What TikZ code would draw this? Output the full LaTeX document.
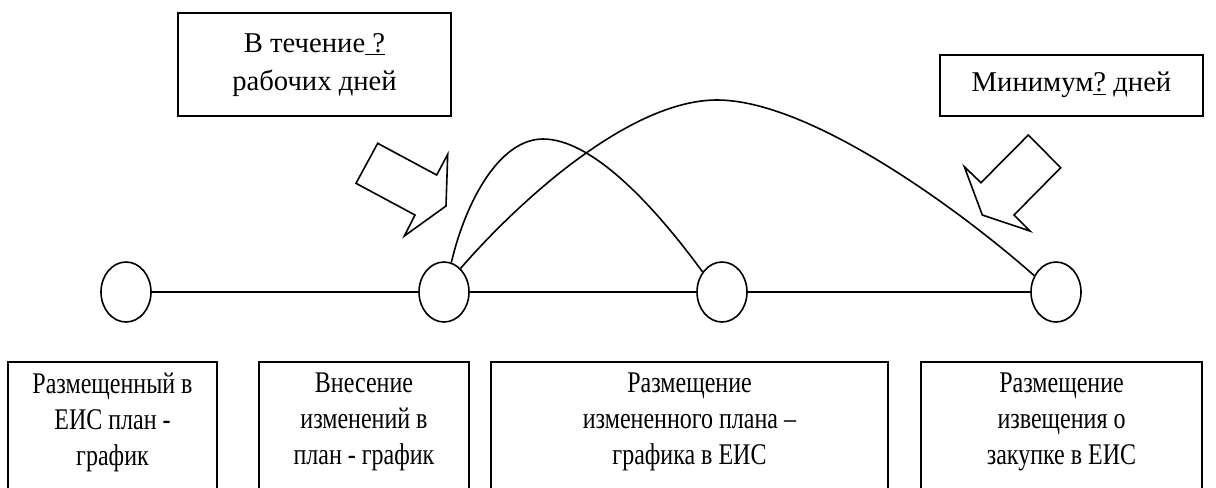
\documentclass[tikz,border=0pt]{standalone}
\usepackage{fontspec}
\setmainfont{Liberation Serif}
\newfontfamily\condserif{Liberation Serif}[FakeStretch=0.8]
\usetikzlibrary{shapes.geometric}
\begin{document}
\begin{tikzpicture}[x=0.75pt,y=-0.75pt, line width=1.2pt,
  box/.style={draw, line width=1.2pt, inner sep=0},
  txt/.style={align=center, font=\fontsize{21.5}{29}\selectfont, inner sep=0},
  btxt/.style={align=center, font=\condserif\fontsize{22.5}{27}\selectfont, inner sep=0},
  circ/.style={draw, ellipse, minimum width=37.5pt, minimum height=45pt, inner sep=0},
  blk/.style={draw, line width=1.2pt, line join=miter}]
\useasboundingbox (0,0) rectangle (1216,487);
\clip (0,0) rectangle (1216,487);
% top boxes
\node[box, minimum width=204.75pt, minimum height=77.25pt] (tb1) at (314.5,64.5) {};
\node[txt] (tt1) at (314.5,65) {В течение\underline{\ ?}\\рабочих дней};
\node[box, minimum width=197.25pt, minimum height=45.75pt] (tb2) at (1071.5,85.5) {};
\node[txt] (tt2) at (1071.5,85) {Минимум\underline{?} дней};
% bottom boxes
\node[box, minimum width=156.75pt, minimum height=118.5pt] (b1) at (112.5,441) {};
\node[box, minimum width=157.5pt, minimum height=118.5pt] (b2) at (364,441) {};
\node[box, minimum width=297.75pt, minimum height=118.5pt] (b3) at (689.5,441) {};
\node[box, minimum width=210.75pt, minimum height=118.5pt] (b4) at (1061.5,441) {};
\node[btxt] (l1) at (112.5,422) {Размещенный в\\ЕИС план -\\график};
\node[btxt] (l2) at (364,422) {Внесение\\изменений в\\план - график};
\node[btxt] (l3) at (689.5,422) {Размещение\\измененного плана –\\графика в ЕИС};
\node[btxt] (l4) at (1061.5,422) {Размещение\\извещения о\\закупке в ЕИС};
% circles
\node[circ] (c1) at (126,292) {};
\node[circ] (c2) at (444,292) {};
\node[circ] (c3) at (722,292) {};
\node[circ] (c4) at (1056,292) {};
\draw (c1.east) -- (c2.west);
\draw (c2.east) -- (c3.west);
\draw (c3.east) -- (c4.west);
% arcs
\coordinate (pa) at (543,139);
\coordinate (pb) at (717,100);
\draw (c2.76) .. controls (466,200) and (500,139) .. (pa) .. controls (590,139) and (650,200) .. (c3.134);
\draw (c2.55) .. controls (520,200) and (630,100) .. (pb) .. controls (810,100) and (960,210) .. (c4.143);
% block arrows
\draw[blk] (377.7,143.3) -- (436.7,175) -- (447.7,154.3) -- (446,206) -- (404.3,236) -- (415,215) -- (356,183.3) -- cycle;
\draw[blk] (1028.3,135) -- (1060.7,167.7) -- (1014,215) -- (1030,231) -- (982.3,215) -- (964.3,166.7) -- (981,182.7) -- cycle;
\end{tikzpicture}
\end{document}
